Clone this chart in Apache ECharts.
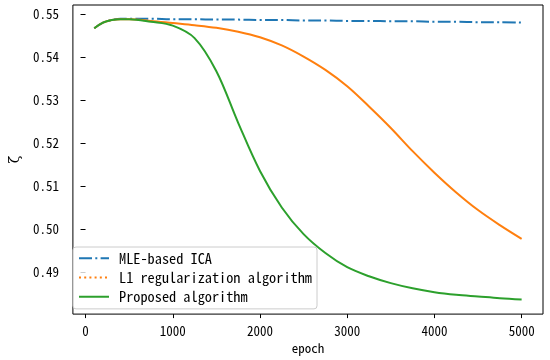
<!DOCTYPE html>
<html>
<head>
<meta charset="utf-8">
<script src="https://cdn.jsdelivr.net/npm/echarts@6/dist/echarts.min.js"></script>
<style>html,body{margin:0;padding:0;background:#fff}#c{width:550px;height:360px}</style>
</head>
<body>
<div id="c"></div>
<script>
const epochs = [100,200,300,400,500,750,1000,1250,1500,1750,2000,2250,2500,2750,3000,3250,3500,3750,4000,4250,4500,4750,5000];
const mleICA = [0.5467,0.5480,0.5486,0.5489,0.5489,0.5489,0.5488,0.5488,0.5487,0.5487,0.5486,0.5486,0.5485,0.5485,0.5484,0.5484,0.5483,0.5483,0.5482,0.5482,0.5481,0.5481,0.5480];
const l1Reg = [0.5467,0.5480,0.5486,0.5488,0.5488,0.5484,0.5479,0.5474,0.5468,0.5459,0.5446,0.5427,0.5401,0.5370,0.5332,0.5285,0.5235,0.5181,0.5131,0.5085,0.5044,0.5009,0.4977];
const proposed = [0.5467,0.5480,0.5486,0.5488,0.5488,0.5482,0.5473,0.5444,0.5367,0.5247,0.5135,0.5050,0.4988,0.4944,0.4911,0.4890,0.4874,0.4862,0.4853,0.4847,0.4843,0.4839,0.4836];
const seriesNames = ['MLE-based ICA','L1 regularization algorithm','Proposed algorithm'];
const xTicks = [0,1000,2000,3000,4000,5000];
const yTicks = [0.49,0.50,0.51,0.52,0.53,0.54,0.55];

const FONT = "'Noto Sans Mono CJK SC','Liberation Mono',monospace";
const DASHDOT = [13,3.3,2,3.3];
const DOTTED = [2,3.2];
const pair = arr => epochs.map((e,i)=>[e,arr[i]]);
const chart = echarts.init(document.getElementById('c'), null, {renderer:'canvas'});
chart.setOption({
  animation:false,
  backgroundColor:'#fff',
  grid:{left:66, top:5, width:477, height:310, show:true, borderColor:'#000', borderWidth:1, containLabel:false},
  xAxis:{
    type:'value', min:-145, max:5245,
    name:'epoch', nameLocation:'middle', nameGap:22,
    nameTextStyle:{fontFamily:FONT, fontSize:13, color:'#000'},
    axisLine:{show:false},
    splitLine:{show:false},
    axisTick:{show:true, customValues:xTicks, length:4, lineStyle:{color:'#000'}},
    axisLabel:{customValues:xTicks, margin:10, fontFamily:FONT, fontSize:13, color:'#000',
      formatter:v=>String(v)}
  },
  yAxis:{
    type:'value', min:0.4802, max:0.5521,
    name:'ζ', nameLocation:'middle', nameGap:46, nameRotate:90,
    nameTextStyle:{fontFamily:"'DejaVu Serif',serif", fontSize:14, color:'#000'},
    axisLine:{show:false},
    splitLine:{show:false},
    axisTick:{show:true, customValues:yTicks, length:5, lineStyle:{color:'#000'}},
    axisLabel:{customValues:yTicks, margin:14, fontFamily:FONT, fontSize:13, color:'#000',
      formatter:v=>v.toFixed(2)}
  },
  legend:{
    left:73, top:247, orient:'vertical',
    itemWidth:30, itemHeight:14, itemGap:5,
    padding:[4,5,5,5],
    backgroundColor:'rgba(255,255,255,0.8)', borderColor:'#ccc', borderWidth:1, borderRadius:3,
    textStyle:{fontFamily:FONT, fontSize:14.3, color:'#000', padding:[0,0,0,5]},
    itemStyle:{opacity:0},
    data:[
      {name:seriesNames[0], lineStyle:{color:'#1f77b4', width:2, type:DASHDOT}, itemStyle:{opacity:0}},
      {name:seriesNames[1], lineStyle:{color:'#ff7f0e', width:2, type:DOTTED}, itemStyle:{opacity:0}},
      {name:seriesNames[2], lineStyle:{color:'#2ca02c', width:2, type:'solid'}, itemStyle:{opacity:0}}
    ]
  },
  series:[
    {name:seriesNames[0], type:'line', data:pair(mleICA), showSymbol:false, symbol:'none', smooth:0.35,
     lineStyle:{color:'#1f77b4', width:2, type:DASHDOT}, itemStyle:{color:'#1f77b4'}, z:3},
    {name:seriesNames[1], type:'line', data:pair(l1Reg), showSymbol:false, symbol:'none', smooth:0.35,
     lineStyle:{color:'#ff7f0e', width:2, type:'solid'}, itemStyle:{color:'#ff7f0e'}, z:4},
    {name:seriesNames[2], type:'line', data:pair(proposed), showSymbol:false, symbol:'none', smooth:0.35,
     lineStyle:{color:'#2ca02c', width:2, type:'solid'}, itemStyle:{color:'#2ca02c'}, z:5}
  ]
});
</script>
</body>
</html>
